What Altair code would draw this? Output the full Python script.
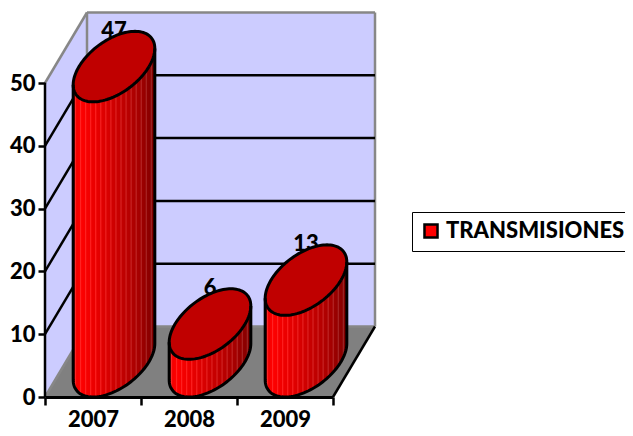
import math
import altair as alt
import pandas as pd

categories = ["2007", "2008", "2009"]
values = [47, 6, 13]
series_name = "TRANSMISIONES"
grid_values = [10, 20, 30, 40]
y_ticks = [0, 10, 20, 30, 40, 50]

X_UNIT = 96.0
Y_UNIT = 6.28
DEPTH_X = 42 / X_UNIT
DEPTH_Y = 70.5 / Y_UNIT
Y_MAX = 389 / Y_UNIT

x_scale = alt.Scale(domain=[0, 3], nice=False, zero=False)
y_scale = alt.Scale(domain=[0, Y_MAX], nice=False, zero=False)
FONT = "Lato"
FS = 22
FW = 900

axis_x = alt.Axis(values=[0, 0.5, 1, 1.5, 2, 2.5, 3], grid=False, domainColor="black", domainWidth=3,
                  tickColor="black", tickWidth=2.5, tickSize=8,
                  tickOpacity={"condition": {"test": "datum.value % 1 != 0", "value": 0}, "value": 1},
                  labelExpr="datum.value % 1 == 0 ? '' : ['2007','2008','2009'][floor(datum.value)]",
                  labelFont=FONT, labelFontWeight=FW, labelFontSize=FS, labelColor="black",
                  labelPadding=4, labelOverlap=False, labelFlush=False, zindex=1)
axis_y = alt.Axis(values=y_ticks, grid=False, domain=False, tickColor="black", tickWidth=2.5, tickSize=7,
                  labelFont=FONT, labelFontWeight=FW, labelFontSize=FS, labelColor="black",
                  labelPadding=3, zindex=1)


def X(name="x"):
    return alt.X(f"{name}:Q", scale=x_scale, axis=axis_x, title=None)


def Y(name="y"):
    return alt.Y(f"{name}:Q", scale=y_scale, axis=axis_y, title=None)


def lines(rows, color, width):
    return alt.Chart(pd.DataFrame(rows)).mark_line(color=color, strokeWidth=width).encode(
        x=X(), y=Y(), detail="g:N", order="o:Q")


def seg(g, x0, y0, x1, y1):
    return [dict(g=g, o=0, x=x0, y=y0), dict(g=g, o=1, x=x1, y=y1)]


# walls and floor
back = pd.DataFrame({"x": [DEPTH_X, 3 + DEPTH_X], "y": [DEPTH_Y] * 2, "y2": [50 + DEPTH_Y] * 2})
side = pd.DataFrame({"x": [0, DEPTH_X], "y": [0, DEPTH_Y], "y2": [50, 50 + DEPTH_Y]})
floor = pd.DataFrame({"x": [0, DEPTH_X, 3, 3 + DEPTH_X],
                      "y": [0, 0, 0, DEPTH_Y],
                      "y2": [0, DEPTH_Y, DEPTH_Y, DEPTH_Y]})


def wall(df, color):
    return alt.Chart(df).mark_area(color=color, opacity=1).encode(
        x=X(), y=Y(), y2=alt.Y2("y2:Q"))


layers = [wall(back, "#ccccff"), wall(side, "#ccccff"), wall(floor, "#808080")]

# grid
black_rows, grey_rows = [], []
for v in grid_values:
    black_rows += seg(f"d{v}", 0, v, DEPTH_X, v + DEPTH_Y)
    black_rows += seg(f"b{v}", DEPTH_X, v + DEPTH_Y, 3 + DEPTH_X, v + DEPTH_Y)
black_rows += seg("axisY", 0, 0, 0, 50)
black_rows += seg("floorR", 3, 0, 3 + DEPTH_X, DEPTH_Y)
grey_rows += seg("top", DEPTH_X, 50 + DEPTH_Y, 3 + DEPTH_X, 50 + DEPTH_Y)
grey_rows += seg("topL", 0, 50, DEPTH_X, 50 + DEPTH_Y)
grey_rows += seg("backL", DEPTH_X, DEPTH_Y, DEPTH_X, 50 + DEPTH_Y)
grey_rows += seg("backR", 3 + DEPTH_X, DEPTH_Y, 3 + DEPTH_X, 50 + DEPTH_Y)
grey_rows += seg("floorL", 0, 0, DEPTH_X, DEPTH_Y)
grey_rows += seg("floorB", DEPTH_X, DEPTH_Y, 3 + DEPTH_X, DEPTH_Y)
layers += [lines(grey_rows, "#878787", 2.5), lines(black_rows, "black", 2.5)]

# cylinders: tilted ellipse built from half-axes
A = 35.0          # px, horizontal half axis
BX = 21.0         # px, depth half axis in x
BY = DEPTH_Y * Y_UNIT / 2
R = math.hypot(A, BX)
PHI = math.atan2(BX, A)
STOPS = [(0.0, (225, 0, 0)), (0.08, (255, 0, 0)), (0.5, (200, 0, 0)), (0.8, (165, 0, 0)), (1.0, (125, 0, 0))]


def shade(f, i):
    for (f0, c0), (f1, c1) in zip(STOPS, STOPS[1:]):
        if f <= f1:
            k = (f - f0) / (f1 - f0)
            rgb = [c0[j] + (c1[j] - c0[j]) * k for j in range(3)]
            break
    if i % 5 == 2:
        rgb = [min(255, rgb[0] + 25), rgb[1] + 45, rgb[2] + 45]
    return "#%02x%02x%02x" % tuple(int(round(c)) for c in rgb)


labels, body_rows, stripe_rows, outline_rows, top_rows, top_line_rows = [], [], [], [], [], []
for n, (cat, v) in enumerate(zip(categories, values)):
    cx = (n + 0.5) * X_UNIT + BX    # px from axis origin
    cy0 = BY                        # base ellipse centre, px above axis
    cyt = v * Y_UNIT + BY           # top ellipse centre
    labels.append(dict(x=cx / X_UNIT, y=(cyt + BY + 0.5) / Y_UNIT, t=str(v)))
    STEPS = int(2 * R)
    for i in range(STEPS + 1):
        u = -R + 2 * R * i / STEPS
        ac = math.acos(max(-1, min(1, u / R)))
        low = cy0 + BY * math.sin(PHI - ac)
        lid_low = cyt + BY * math.sin(PHI - ac)
        hi = max(lid_low, low)
        body_rows.append(dict(g=cat, x=(cx + u) / X_UNIT, y=low / Y_UNIT, y2=hi / Y_UNIT, s=series_name))
        if i < STEPS:
            f = i / STEPS
            u1 = u + 2 * R / STEPS
            ac1 = math.acos(max(-1, min(1, (u + R / STEPS) / R)))
            lowm = cy0 + BY * math.sin(PHI - ac1)
            himid = cyt + BY * math.sin(PHI - ac1)
            stripe_rows.append(dict(x=(cx + u) / X_UNIT, x2=(cx + u1 + 0.3) / X_UNIT,
                                    y=lowm / Y_UNIT, y2=himid / Y_UNIT, c=shade(f, i)))
        upper = cyt + BY * math.sin(PHI + ac)
        top_rows.append(dict(g=cat, x=(cx + u) / X_UNIT, y=lid_low / Y_UNIT, y2=upper / Y_UNIT))
    # outline of the body
    pts = 60
    ol = [(-R, cyt + BY * math.sin(PHI - math.pi))]
    for k in range(pts + 1):
        ac = math.pi * (1 - k / pts)
        ol.append((R * math.cos(ac), cy0 + BY * math.sin(PHI - ac)))
    ol.append((R, cyt + BY * math.sin(PHI)))
    for o, (u, h) in enumerate(ol):
        outline_rows.append(dict(g=cat, o=o, x=(cx + u) / X_UNIT, y=h / Y_UNIT))
    for k in range(121):
        t = 2 * math.pi * k / 120
        top_line_rows.append(dict(g=cat, o=k, x=(cx + A * math.cos(t) + BX * math.sin(t)) / X_UNIT,
                                  y=(cyt + BY * math.sin(t)) / Y_UNIT))

legend = alt.Legend(title=None, orient="none", legendX=367, legendY=204, symbolType="square", symbolSize=170,
                    symbolStrokeColor="black", symbolStrokeWidth=2.5, symbolOpacity=1,
                    labelFont=FONT, labelFontWeight=FW, labelFontSize=FS, labelColor="black",
                    strokeColor="black", fillColor="white", padding=8, cornerRadius=0,
                    labelLimit=300)

text = alt.Chart(pd.DataFrame(labels)).mark_text(
    font=FONT, fontWeight=FW, fontSize=FS, color="black", baseline="middle", align="center"
).encode(x=X(), y=Y(), text="t:N")

body = alt.Chart(pd.DataFrame(body_rows)).mark_area(opacity=1).encode(
    x=X(), y=Y(), y2=alt.Y2("y2:Q"), detail="g:N",
    color=alt.Color("s:N", scale=alt.Scale(domain=[series_name], range=["#ff0000"]), legend=legend))
stripes = alt.Chart(pd.DataFrame(stripe_rows)).mark_rect(strokeWidth=0).encode(
    x=X(), x2=alt.X2("x2:Q"), y=Y(), y2=alt.Y2("y2:Q"), fill=alt.Fill("c:N", scale=None))
lid = alt.Chart(pd.DataFrame(top_rows)).mark_area(color="#c00000", opacity=1).encode(
    x=X(), y=Y(), y2=alt.Y2("y2:Q"), detail="g:N")

layers += [text, body, stripes, lid, lines(outline_rows, "black", 3), lines(top_line_rows, "black", 3)]

chart = alt.layer(*layers).properties(
    width=288, height=389,
    autosize=alt.AutoSizeParams(type="none"),
    padding={"left": 37, "top": 0, "right": 292, "bottom": 31},
    background="white",
).configure_view(stroke=None)

chart.save("out.html", embed_options={"renderer": "svg", "actions": False})
